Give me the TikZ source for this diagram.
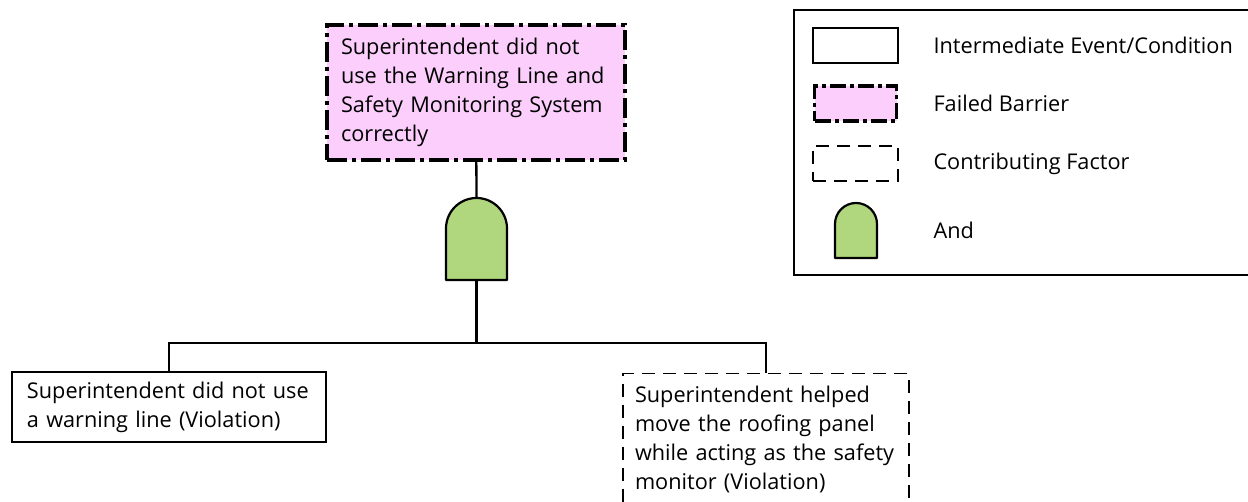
\documentclass[tikz,border=0pt]{standalone}
\usepackage{fontspec}
\setmainfont{Open Sans}
\definecolor{barrierpink}{RGB}{251,206,251}
\definecolor{gategreen}{RGB}{176,214,126}
\tikzset{
  event/.style={draw, line width=1.5pt, align=left, inner xsep=15pt, inner ysep=6pt},
  barrier/.style={draw, fill=barrierpink, line width=3.5pt, align=left, inner xsep=14pt,
    dash pattern=on 20pt off 5pt on 4pt off 5pt},
  factor/.style={draw, line width=1.5pt, align=left, inner xsep=12pt,
    dash pattern=on 13pt off 8pt},
  gateshape/.style={draw, fill=gategreen, line width=2.2pt, line join=round},
  wire/.style={line width=2.3pt}
}
\begin{document}
\begin{tikzpicture}[x=1pt,y=1pt,font=\fontsize{21.7}{29}\selectfont]
  \useasboundingbox (0,0) rectangle (1248,502);
  % tree
  \node[barrier, text width=270pt, minimum height=135pt] (top) at (476,409.5)
    {Superintendent did not\\use the Warning Line and\\Safety Monitoring System\\correctly};
  \coordinate (gatetop) at (476.5,304);
  \coordinate (gatebot) at (476.5,222);
  \coordinate (bus) at (476.5,159);
  \draw[gateshape] (446,222) -- (446,273.5) arc (180:0:30.5) -- (507,222) -- cycle;
  \node[event, text width=284pt, minimum height=70pt] (viol) at (169,95)
    {Superintendent did not use\\a warning line (Violation)};
  \node[factor, text width=262pt, minimum height=132pt, anchor=north] (help) at (766,129)
    {Superintendent helped\\move the roofing panel\\while acting as the safety\\monitor (Violation)};
  \draw[wire] (top) -- (gatetop);
  \draw[wire] (gatebot) -- (bus);
  \draw[wire] (viol.north) |- (bus) -| (help.north);
  % legend
  \draw[line width=2.3pt] (794,227) rectangle (1262,492);
  \node[draw, line width=1.5pt, minimum width=85pt, minimum height=35pt] (lgevent) at (855.5,456.5) {};
  \node[draw, fill=barrierpink, line width=3.5pt, dash pattern=on 16pt off 4pt on 4pt off 4pt,
    minimum width=82pt, minimum height=35pt] (lgbarrier) at (855.5,398.5) {};
  \node[draw, line width=1.5pt, dash pattern=on 13pt off 8pt,
    minimum width=85pt, minimum height=35pt] (lgfactor) at (855.5,338.5) {};
  \draw[gateshape] (835,244) -- (835,278) arc (180:0:21) -- (877,244) -- cycle;
  \node[anchor=west] (txevent) at (930,456.5) {Intermediate Event/Condition};
  \node[anchor=west] (txbarrier) at (930,398.5) {Failed Barrier};
  \node[anchor=west] (txfactor) at (930,338.5) {Contributing Factor};
  \node[anchor=west] (txand) at (930,272) {And};
\end{tikzpicture}
\end{document}
